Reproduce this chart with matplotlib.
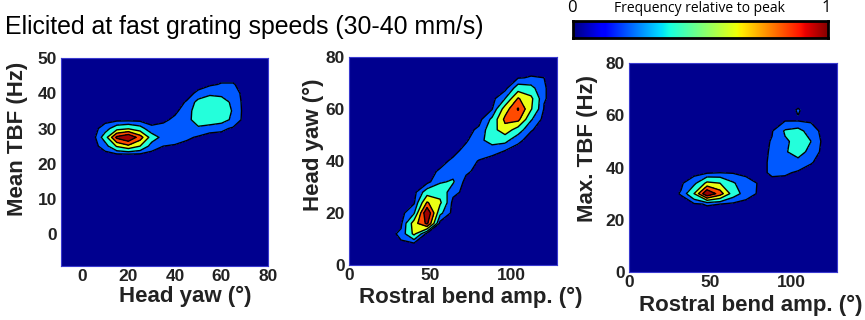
import numpy as np
import matplotlib
matplotlib.use('Agg')
import matplotlib.pyplot as plt

plt.rcParams['font.family'] = ['Liberation Sans', 'DejaVu Sans']

# contour levels (fraction of peak) and the jet-like fill for each band
levels = [0.05, 0.2, 0.4, 0.6, 0.8]
fill_colors = ['#0059FF', '#24FFDB', '#EBFF14', '#FF4A00', '#9E0000']
bg_color = '#00008F'

# --- panel 1: head yaw vs mean TBF (percent of peak) ---
yaw_x = [0, 5, 10, 15, 20, 25, 30, 35, 40, 45, 50, 55, 60, 65, 70, 75]
tbf_y = [20, 22.5, 25, 27.5, 30, 32.5, 35, 37.5, 40, 42.5, 45]
yaw_tbf = [
    [0, 0, 0, 0, 0, 0, 0, 0, 0, 0, 0, 0, 0, 0, 0, 0],
    [0, 0, 0, 0, 0, 0, 0, 0, 0, 0, 0, 0, 0, 0, 0, 0],
    [0, 0, 12, 42, 55, 40, 12, 5, 3, 0, 0, 0, 0, 0, 0, 0],
    [0, 0, 30, 85, 100, 70, 30, 14, 14, 8, 3, 0, 0, 0, 0, 0],
    [0, 0, 12, 32, 38, 28, 8, 10, 14, 16, 18, 10, 8, 3, 0, 0],
    [0, 0, 0, 0, 0, 0, 0, 2, 8, 16, 26, 34, 28, 16, 0, 0],
    [0, 0, 0, 0, 0, 0, 0, 0, 2, 12, 30, 38, 33, 18, 0, 0],
    [0, 0, 0, 0, 0, 0, 0, 0, 0, 6, 26, 32, 28, 16, 0, 0],
    [0, 0, 0, 0, 0, 0, 0, 0, 0, 0, 8, 16, 15, 12, 0, 0],
    [0, 0, 0, 0, 0, 0, 0, 0, 0, 0, 0, 3, 6, 6, 0, 0],
    [0, 0, 0, 0, 0, 0, 0, 0, 0, 0, 0, 0, 0, 0, 0, 0],
]

# --- panel 2: rostral bend amplitude vs head yaw ---
bend_x = [24, 32, 40, 48, 56, 64, 72, 80, 88, 96, 104, 112, 120, 128]
yaw_y = [4, 8, 12, 16, 20, 24, 28, 32, 36, 40, 44, 48, 52, 56, 60, 64, 68, 72, 76]
bend_yaw = [
    [0, 0, 0, 0, 0, 0, 0, 0, 0, 0, 0, 0, 0, 0],
    [0, 3, 0, 0, 0, 0, 0, 0, 0, 0, 0, 0, 0, 0],
    [0, 8, 45, 0, 0, 0, 0, 0, 0, 0, 0, 0, 0, 0],
    [0, 2, 50, 85, 0, 0, 0, 0, 0, 0, 0, 0, 0, 0],
    [0, 0, 18, 100, 25, 0, 0, 0, 0, 0, 0, 0, 0, 0],
    [0, 0, 3, 62, 44, 0, 0, 0, 0, 0, 0, 0, 0, 0],
    [0, 0, 0, 30, 32, 10, 0, 0, 0, 0, 0, 0, 0, 0],
    [0, 0, 0, 0, 18, 22, 0, 0, 0, 0, 0, 0, 0, 0],
    [0, 0, 0, 0, 7, 14, 8, 0, 0, 0, 0, 0, 0, 0],
    [0, 0, 0, 0, 0, 8, 12, 4, 0, 0, 0, 0, 0, 0],
    [0, 0, 0, 0, 0, 0, 10, 14, 10, 5, 0, 0, 0, 0],
    [0, 0, 0, 0, 0, 0, 3, 15, 28, 26, 8, 0, 0, 0],
    [0, 0, 0, 0, 0, 0, 0, 8, 32, 52, 30, 6, 0, 0],
    [0, 0, 0, 0, 0, 0, 0, 0, 24, 65, 66, 22, 0, 0],
    [0, 0, 0, 0, 0, 0, 0, 0, 4, 50, 82, 42, 4, 0],
    [0, 0, 0, 0, 0, 0, 0, 0, 0, 20, 62, 45, 6, 0],
    [0, 0, 0, 0, 0, 0, 0, 0, 0, 0, 30, 26, 6, 0],
    [0, 0, 0, 0, 0, 0, 0, 0, 0, 0, 4, 6, 5, 0],
    [0, 0, 0, 0, 0, 0, 0, 0, 0, 0, 0, 0, 0, 0],
]

# --- panel 3: rostral bend amplitude vs max TBF ---
maxtbf_y = [18, 22, 26, 30, 34, 38, 42, 46, 50, 54, 58, 62, 66]
bend_maxtbf = [
    [0, 0, 0, 0, 0, 0, 0, 0, 0, 0, 0, 0, 0, 0],
    [0, 0, 0, 0, 0, 0, 0, 0, 0, 0, 0, 0, 0, 0],
    [0, 0, 3, 6, 5, 2, 0, 0, 0, 0, 0, 0, 0, 0],
    [0, 6, 40, 100, 70, 30, 12, 3, 0, 0, 0, 0, 0, 0],
    [0, 3, 15, 45, 40, 22, 10, 4, 0, 0, 0, 0, 0, 0],
    [0, 0, 0, 3, 5, 4, 2, 0, 8, 7, 3, 0, 0, 0],
    [0, 0, 0, 0, 0, 0, 0, 0, 8, 12, 14, 6, 0, 0],
    [0, 0, 0, 0, 0, 0, 0, 0, 7, 18, 28, 14, 0, 0],
    [0, 0, 0, 0, 0, 0, 0, 0, 6, 18, 24, 20, 0, 0],
    [0, 0, 0, 0, 0, 0, 0, 0, 4, 22, 26, 12, 0, 0],
    [0, 0, 0, 0, 0, 0, 0, 0, 0, 4, 4, 3, 0, 0],
    [0, 0, 0, 0, 0, 0, 0, 0, 0, 0, 6, 0, 0, 0],
    [0, 0, 0, 0, 0, 0, 0, 0, 0, 0, 0, 0, 0, 0],
]

panels = [
    dict(x=yaw_x, y=tbf_y, z=yaw_tbf, rect=[0.0705, 0.16875, 0.2393, 0.65],
         xlim=(-9, 80), ylim=(-9, 50), xticks=[0, 20, 40, 60, 80],
         yticks=[0, 10, 20, 30, 40, 50], xlabel='Head yaw (°)', ylabel='Mean TBF (Hz)',
         xlab_pos=(0.60, -0.148), ylab_pos=(-0.208, 0.613)),
    dict(x=bend_x, y=yaw_y, z=bend_yaw, rect=[0.4035, 0.171875, 0.2405, 0.65],
         xlim=(0, 128), ylim=(0, 80), xticks=[0, 50, 100],
         yticks=[0, 20, 40, 60, 80], xlabel='Rostral bend amp. (°)', ylabel='Head yaw (°)',
         xlab_pos=(0.587, -0.155), ylab_pos=(-0.173, 0.577)),
    dict(x=bend_x, y=maxtbf_y, z=bend_maxtbf, rect=[0.7272, 0.15, 0.2405, 0.653],
         xlim=(0, 128), ylim=(0, 80), xticks=[0, 50, 100],
         yticks=[0, 20, 40, 60, 80], xlabel='Rostral bend amp. (°)', ylabel='Max. TBF (Hz)',
         xlab_pos=(0.584, -0.162), ylab_pos=(-0.202, 0.591)),
]

fig = plt.figure(figsize=(8.65, 3.2), dpi=100)

for p in panels:
    ax = fig.add_axes(p['rect'])
    ax.set_facecolor(bg_color)
    X, Y = np.meshgrid(p['x'], p['y'])
    Z = np.array(p['z'], dtype=float) / 100.0
    ax.contourf(X, Y, Z, levels=levels + [1.01], colors=fill_colors)
    ax.contour(X, Y, Z, levels=levels, colors='k', linewidths=1.0)
    ax.set_xlim(p['xlim'])
    ax.set_ylim(p['ylim'])
    ax.set_xticks(p['xticks'])
    ax.set_yticks(p['yticks'])
    ax.tick_params(length=0, labelsize=12.5, labelcolor='#222222')
    ax.tick_params(axis='x', pad=2)
    ax.tick_params(axis='y', pad=3)
    for lab in ax.get_xticklabels() + ax.get_yticklabels():
        lab.set_fontweight('bold')
    for s in ax.spines.values():
        s.set_color('#3A3ACF')
        s.set_linewidth(0.8)
    ax.set_xlabel(p['xlabel'], fontsize=16, fontweight='bold', color='#222222', va='center')
    ax.set_ylabel(p['ylabel'], fontsize=16, fontweight='bold', color='#222222', va='center')
    ax.xaxis.set_label_coords(*p['xlab_pos'])
    ax.yaxis.set_label_coords(*p['ylab_pos'])

# colour bar strip along the top right
cax = fig.add_axes([0.6624, 0.88125, 0.2948, 0.053])
cax.imshow(np.linspace(0, 1, 256)[None, :], cmap='jet', aspect='auto')
cax.set_xticks([])
cax.set_yticks([])
for s in cax.spines.values():
    s.set_color('k')
    s.set_linewidth(2)

fig.text(572 / 865, 1 - 8 / 320, '0', ha='center', va='center', fontsize=12,
         family=['Open Sans', 'DejaVu Sans'])
fig.text(699 / 865, 1 - 8 / 320, 'Frequency relative to peak', ha='center', va='center',
         fontsize=10, family=['Open Sans', 'DejaVu Sans'])
fig.text(826 / 865, 1 - 8 / 320, '1', ha='center', va='center', fontsize=12,
         family=['Open Sans', 'DejaVu Sans'])

fig.text(5 / 865, 1 - 34 / 320, 'Elicited at fast grating speeds (30-40 mm/s)',
         ha='left', va='baseline', fontsize=17.9)

plt.savefig('out.png', dpi=100)
plt.close()
